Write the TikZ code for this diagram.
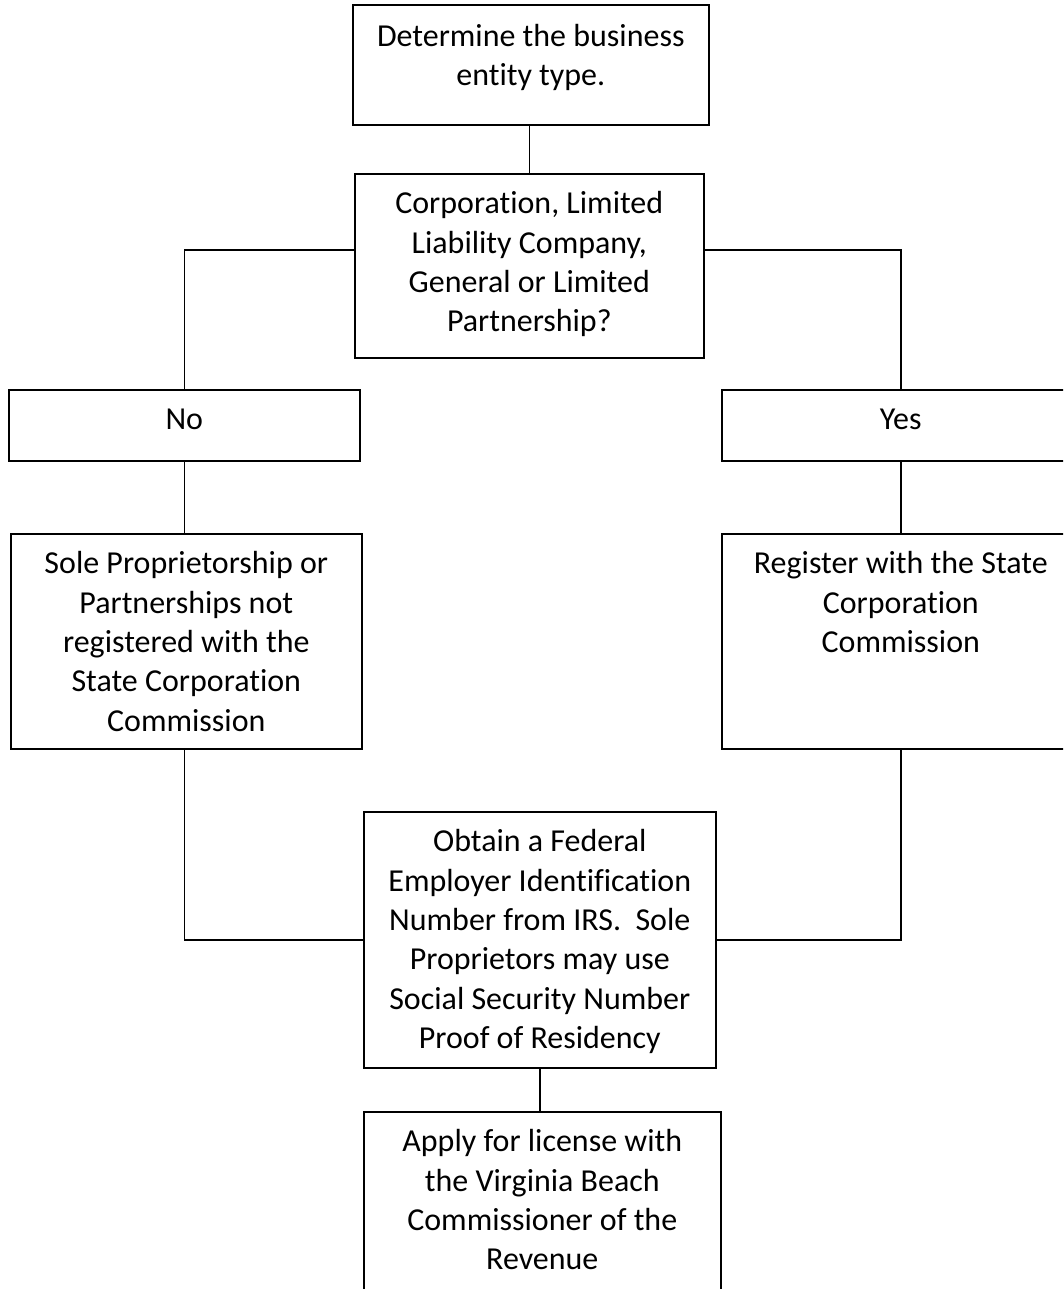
\documentclass[tikz,border=0pt]{standalone}
\usepackage{fontspec}
\setmainfont[Ligatures={NoCommon}]{Carlito}
\usepackage{tikz}
\usetikzlibrary{positioning,calc}

\newlength\pxu
\setlength\pxu{0.02cm}
% box text: [top pad]{width}{height}{lines}
\newcommand\boxtext[4][12.5]{\parbox[c][#3\pxu][t]{#2\pxu}{\centering\vspace*{#1\pxu}\strut #4}}

\tikzset{
  stepbox/.style={draw, inner sep=0pt, line width=0.9pt, anchor=north west},
  link/.style={line width=0.9pt}
}

\begin{document}
\begin{tikzpicture}[x=0.02cm, y=-0.02cm, font=\fontsize{18.2}{22.4}\selectfont]
\useasboundingbox (0,0) rectangle (1063,1289);
\clip (0,0) rectangle (1063,1289);

\node[stepbox] (top) at (352,4) {\boxtext[14]{356}{120}{Determine the business\\ entity type.}};
\node[stepbox] (q) at (354,173) {\boxtext{349}{184}{Corporation, Limited\\ Liability Company,\\ General or Limited\\ Partnership?}};
\node[stepbox] (no) at (8,389) {\boxtext{351}{71}{No}};
\node[stepbox] (yes) at (721,389) {\boxtext{358}{71}{Yes}};
\node[stepbox] (sole) at (10,533) {\boxtext{351}{215}{Sole Proprietorship or\\ Partnerships not\\ registered with the\\ State Corporation\\ Commission}};
\node[stepbox] (reg) at (721,533) {\boxtext{358}{215}{Register with the State\\ Corporation\\ Commission}};
\node[stepbox] (obtain) at (363,811) {\boxtext{352}{256}{Obtain a Federal\\ Employer Identification\\ Number from IRS.~~Sole\\ Proprietors may use\\ Social Security Number\\ Proof of Residency}};
\node[stepbox] (apply) at (363,1111) {\boxtext{357}{200}{Apply for license with\\ the Virginia Beach\\ Commissioner of the\\ Revenue}};

% connectors
\draw[link] (q.north) -- (q.north |- top.south);
\draw[link] (no.north) |- ([yshift=16\pxu]q.west);
\draw[link] (yes.north) |- ([yshift=16\pxu]q.east);
\draw[link] (no.south) -- (no.south |- sole.north);
\draw[link] (yes.south) -- (reg.north);
\draw[link] (no.south |- sole.south) |- (obtain.west);
\draw[link] (reg.south) |- (obtain.east);
\draw[link] (obtain.south) -- (obtain.south |- apply.north);
\end{tikzpicture}
\end{document}
